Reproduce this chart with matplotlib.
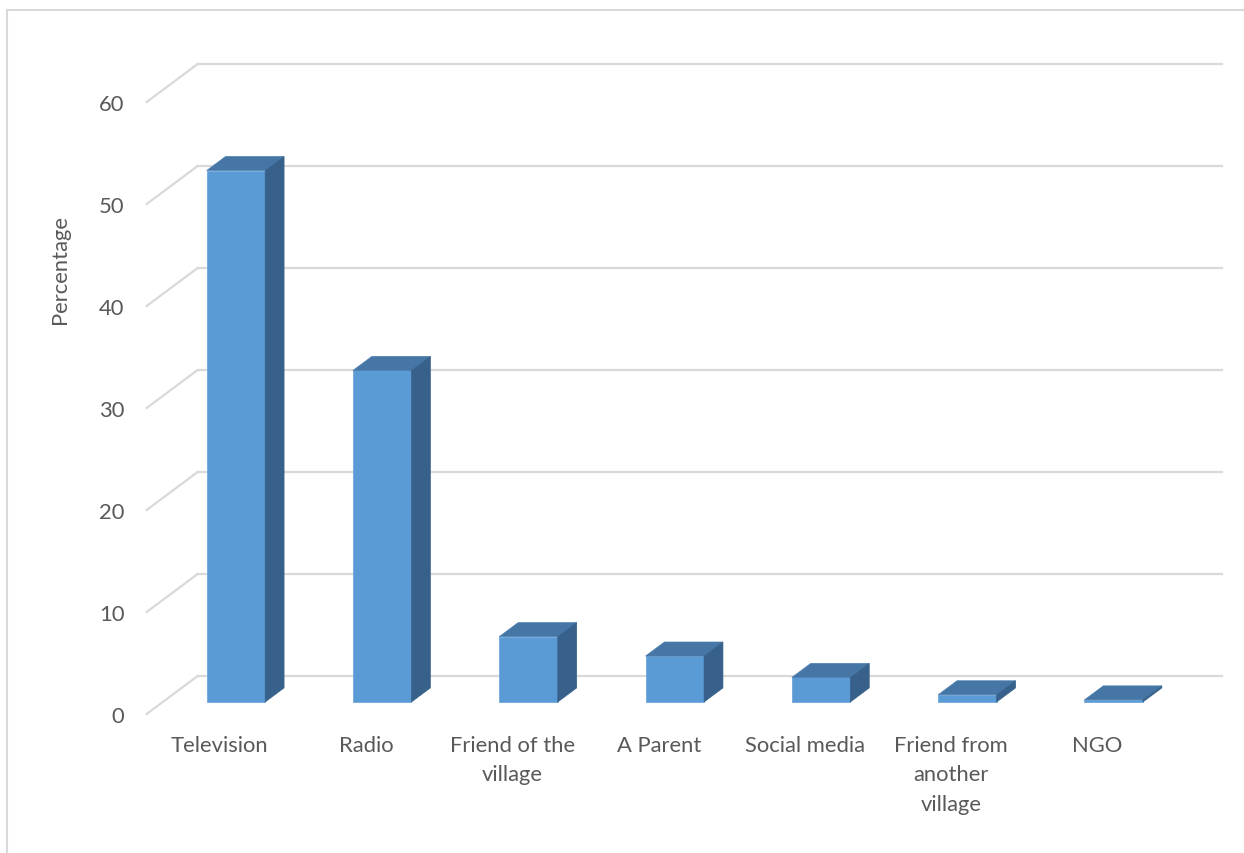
import matplotlib
matplotlib.use("Agg")
import matplotlib.pyplot as plt
from matplotlib.patches import Polygon
from matplotlib.lines import Line2D

# --- data ---
categories = ["Television", "Radio", "Friend of the\nvillage", "A Parent",
              "Social media", "Friend from\nanother\nvillage", "NGO"]
percentages = [52.1, 32.5, 6.4, 4.5, 2.4, 0.7, 0.2]
y_ticks = [0, 10, 20, 30, 40, 50, 60]

# colours (Excel-like 3D column)
front_col = "#5B9BD5"
top_col = "#4676A5"
side_col = "#37618A"
grid_col = "#D9D9D9"
text_col = "#595959"

plt.rcParams["font.family"] = ["Lato", "DejaVu Sans"]
fs = 15.8

fig = plt.figure(figsize=(12.44, 8.54), dpi=100)
ax = fig.add_axes([0.1179, 0.1628, 0.8232, 0.7166])
ax.set_xlim(-0.5, len(categories) - 0.5)
ax.set_ylim(0, 60)

# oblique depth of the plot box, in data units
depth_x = 0.3486
depth_y = 3.725
# the columns sit in the middle of the depth
f0 = 0.316
fd = 0.37
bar_w = 0.40

# back wall gridlines + left wall diagonals
x_left, x_right = -0.5, len(categories) - 0.5
for v in y_ticks:
    ax.add_line(Line2D([x_left + depth_x, x_right + depth_x],
                       [v + depth_y, v + depth_y],
                       color=grid_col, lw=1.6, clip_on=False, zorder=1))
    ax.add_line(Line2D([x_left, x_left + depth_x], [v, v + depth_y],
                       color=grid_col, lw=1.6, clip_on=False, zorder=1))

# columns: front face with ax.bar, top and side as polygons
xs = [i + f0 * depth_x for i in range(len(categories))]
base = f0 * depth_y
ax.bar(xs, percentages, width=bar_w, bottom=base, color=front_col,
       edgecolor="#6FA7DB", linewidth=0.6, zorder=3)

ddx = fd * depth_x
ddy = fd * depth_y
for x, v in zip(xs, percentages):
    x0, x1 = x - bar_w / 2, x + bar_w / 2
    top = base + v
    ax.add_patch(Polygon([(x0, top), (x1, top), (x1 + ddx, top + ddy),
                          (x0 + ddx, top + ddy)], closed=True,
                         facecolor=top_col, edgecolor="#4C7FB0", lw=0.5,
                         clip_on=False, zorder=3))
    ax.add_patch(Polygon([(x1, base), (x1 + ddx, base + ddy),
                          (x1 + ddx, top + ddy), (x1, top)], closed=True,
                         facecolor=side_col, edgecolor=side_col, lw=0.5,
                         clip_on=False, zorder=3))

ax.set_xticks(range(len(categories)))
ax.set_xticklabels(categories, fontsize=fs, color=text_col, linespacing=1.6,
                   multialignment="center", va="top")
ax.set_yticks(y_ticks)
ax.set_yticklabels([str(t) for t in y_ticks], fontsize=fs, color=text_col)
ax.tick_params(axis="x", length=0, pad=15)
ax.tick_params(axis="y", length=0, pad=16)

for s in ax.spines.values():
    s.set_visible(False)
ax.patch.set_visible(False)

fig.text(60 / 1244, 1 - 269 / 854, "Percentage", rotation=90,
         ha="center", va="center", fontsize=fs, color=text_col)

# chart border (left and top edges visible in the crop)
fig.add_artist(Line2D([7 / 1244, 7 / 1244], [0, 1 - 11 / 854],
                      transform=fig.transFigure, color=grid_col, lw=1.5))
fig.add_artist(Line2D([7 / 1244, 1], [1 - 11 / 854, 1 - 11 / 854],
                      transform=fig.transFigure, color=grid_col, lw=1.5))

fig.savefig("out.png", dpi=100)
